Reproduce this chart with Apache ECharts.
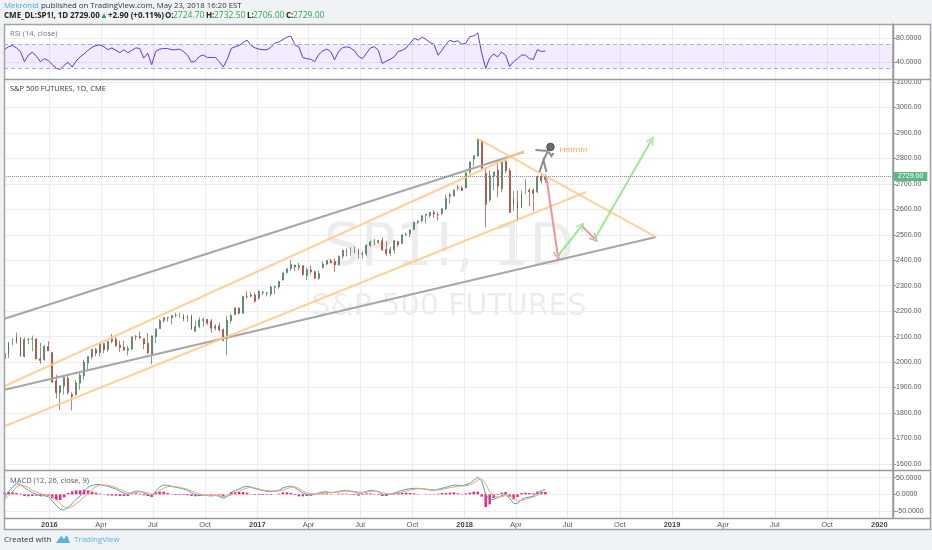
<!DOCTYPE html>
<html>
<head lang="en">
    <meta charset="UTF-8">
    <title>SP1! 1D</title>
    <script src="https://cdn.jsdelivr.net/npm/echarts@6/dist/echarts.min.js"></script>
    <style>
        html, body { margin: 0; padding: 0; background: #f0f3f6; }
        #container { width: 932px; height: 550px; }
    </style>
</head>
<body>
<div id="container"></div>
<script>
    // weekly candles, one per week, first week centred on Wed 2015-10-14
    var firstWeek = '2015-10-14';
    var weekOpen = [2013,2033,2075,2080,2096,2022,2089,2090,2091,2013,
        2010,2061,2038,1926,1880,1906,1936,1873,1871,1917,
        1947,1996,2020,2049,2037,2073,2050,2081,2090,2067,
        2058,2046,2052,2100,2100,2092,2073,2030,2100,2131,
        2163,2175,2173,2184,2184,2183,2171,2181,2121,2140,
        2163,2168,2160,2133,2142,2128,2092,2163,2186,2212,
        2192,2258,2259,2263,2251,2273,2270,2267,2294,2295,
        2322,2352,2367,2381,2372,2379,2339,2362,2355,2329,
        2371,2385,2397,2394,2382,2416,2438,2432,2433,2438,
        2424,2425,2459,2472,2471,2477,2443,2427,2441,2474,
        2466,2501,2503,2521,2549,2555,2578,2575,2588,2579,
        2584,2602,2657,2652,2685,2684,2684,2746,2798,2809,
        2867,2741,2637,2730,2754,2681,2787,2752,2619,2633,
        2611,2670,2675,2675,2669,2728,2717];
    var weekHigh = [2034,2080,2094,2116,2098,2097,2095,2104,2094,2076,
        2067,2082,2038,1950,1908,1940,1947,1881,1930,1963,
        2009,2022,2052,2056,2075,2074,2083,2111,2099,2084,
        2084,2064,2100,2106,2120,2092,2113,2103,2131,2169,
        2176,2178,2183,2194,2193,2189,2184,2187,2163,2176,
        2175,2169,2169,2149,2155,2131,2182,2189,2214,2214,
        2259,2278,2274,2273,2282,2279,2276,2300,2300,2319,
        2351,2367,2401,2382,2390,2379,2370,2379,2358,2361,
        2396,2399,2405,2406,2418,2440,2446,2451,2453,2446,
        2434,2463,2477,2484,2480,2490,2474,2454,2480,2474,
        2500,2508,2520,2552,2557,2576,2582,2589,2597,2591,
        2604,2657,2665,2679,2695,2692,2745,2787,2812,2878,
        2871,2763,2754,2747,2789,2786,2803,2762,2672,2673,
        2674,2718,2683,2682,2732,2742,2737];
    var weekLow = [1990,2016,2066,2072,2022,2019,2070,2042,2012,1993,
        2005,2044,1918,1857,1812,1872,1872,1810,1871,1891,
        1931,1969,2012,2023,2022,2034,2039,2074,2059,2040,
        2043,2026,2047,2085,2090,2050,2032,1991,2074,2131,
        2155,2159,2148,2176,2174,2160,2158,2128,2119,2133,
        2139,2145,2115,2124,2119,2083,2028,2151,2186,2187,
        2191,2248,2254,2234,2245,2263,2258,2258,2267,2288,
        2321,2348,2358,2357,2361,2339,2322,2344,2328,2323,
        2370,2380,2388,2353,2380,2405,2415,2418,2428,2405,
        2407,2416,2452,2459,2464,2437,2417,2417,2428,2452,
        2466,2495,2491,2520,2543,2548,2544,2566,2566,2557,
        2577,2597,2624,2652,2673,2672,2683,2738,2769,2808,
        2756,2530,2630,2675,2647,2667,2742,2586,2594,2553,
        2605,2660,2612,2594,2663,2702,2703];
    var weekClose = [2033,2075,2079,2099,2023,2089,2090,2092,2012,2006,
        2061,2044,1922,1880,1907,1940,1880,1865,1918,1948,
        1999,2022,2050,2035,2073,2048,2081,2092,2065,2057,
        2047,2052,2099,2099,2096,2071,2037,2103,2130,2162,
        2175,2174,2183,2184,2184,2169,2180,2128,2139,2165,
        2168,2153,2133,2141,2126,2085,2164,2182,2213,2192,
        2259,2258,2264,2239,2277,2275,2271,2295,2297,2316,
        2351,2367,2383,2373,2378,2344,2363,2355,2329,2348,
        2384,2399,2391,2382,2416,2439,2432,2433,2438,2423,
        2425,2459,2472,2472,2477,2441,2426,2443,2477,2461,
        2500,2502,2519,2549,2553,2575,2581,2588,2582,2578,
        2602,2642,2652,2675,2684,2674,2743,2786,2810,2873,
        2762,2620,2732,2747,2691,2786,2752,2588,2641,2604,
        2656,2670,2670,2663,2728,2713,2729];

    var rsiValues = [61,66,68,64,58,41,52,57,50,41,
        46,43,36,30,28,35,40,32,42,49,
        54,60,65,68,69,66,61,64,60,56,
        61,56,60,64,63,47,55,36,58,62,
        63,63,61,61,62,58,52,40,42,50,
        52,48,48,48,41,32,45,63,66,68,
        73,77,68,64,62,61,61,65,72,74,
        78,82,84,69,66,48,46,45,41,53,
        59,62,58,44,58,64,66,64,59,50,
        46,55,64,66,60,38,42,45,49,58,
        60,64,72,80,77,82,78,73,70,52,
        60,70,77,74,76,70,72,83,84,89,
        55,30,47,54,49,57,52,33,41,46,
        52,52,46,45,61,58,59];

    var macdLine = [-10,8,22,32,30,20,12,5,0,-5,
        -4,-7,-20,-33,-45,-47,-38,-28,-15,-5,
        10,21,27,29,30,27,24,20,16,9,
        4,0,6,9,10,4,0,-8,10,22,
        28,27,24,21,19,16,12,5,-2,-4,
        -2,-4,-5,-3,-6,-12,-6,5,11,16,
        22,24,21,17,14,11,9,8,10,12,
        19,23,25,20,12,4,0,-2,0,4,
        7,8,5,6,9,11,12,9,7,3,
        4,9,12,11,7,0,-2,1,4,8,
        12,15,17,18,18,17,15,13,12,15,
        18,21,25,28,27,26,29,33,42,51,
        40,0,-17,-15,-10,-4,0,-12,-27,-28,
        -15,-10,-8,-5,5,11,15];
    var signalLine = [-15,-5,8,22,28,25,20,12,7,3,
        -1,-3,-8,-16,-28,-38,-42,-37,-28,-20,
        -8,3,15,23,28,28,27,24,20,15,
        10,5,3,5,8,7,5,0,3,12,
        18,23,25,23,21,18,15,10,5,1,
        -2,-3,-3,-4,-4,-6,-5,-2,4,9,
        15,19,22,19,16,13,11,10,10,10,
        13,17,21,22,18,10,5,2,1,2,
        4,5,6,6,7,9,10,10,9,7,
        6,6,9,10,9,5,3,1,1,4,
        7,10,13,15,17,17,16,14,13,13,
        14,17,20,22,24,25,26,28,34,43,
        47,30,8,-4,-8,-7,-4,-5,-12,-20,
        -19,-15,-12,-8,-3,3,8];
    var macdHist = [5,8,6,4,2,-5,-6,-5,-4,-5,
        -3,-4,-12,-17,-17,-9,4,9,12,12,
        14,12,8,5,2,-1,-3,-4,-4,-5,
        -5,-5,2,3,2,-3,-5,-8,6,8,
        8,4,-1,-2,-2,-2,-3,-5,-6,-5,
        0,-1,-2,1,-2,-6,-1,7,7,7,
        7,5,-1,-2,-2,-2,-2,-2,0,2,
        6,6,4,-2,-6,-6,-5,-4,-1,2,
        3,3,-1,0,2,2,2,-1,-2,-4,
        -2,3,3,1,-2,-5,-5,0,3,4,
        5,5,4,3,1,0,-1,-1,-1,2,
        4,4,5,6,3,1,3,5,8,8,
        -7,-38,-30,-11,-2,5,7,-7,-15,-8,
        4,5,4,3,8,8,7];

    var xRange = ['2015-10-13', '2020-01-25'];
    var quarterTicks = ['2016-01-01','2016-04-01','2016-07-01','2016-10-01',
        '2017-01-01','2017-04-01','2017-07-01','2017-10-01',
        '2018-01-01','2018-04-01','2018-07-01','2018-10-01',
        '2019-01-01','2019-04-01','2019-07-01','2019-10-01','2020-01-01'];
    var monthNames = ['Jan','Feb','Mar','Apr','May','Jun','Jul','Aug','Sep','Oct','Nov','Dec'];
    var priceTicks = [1600,1700,1800,1900,2000,2100,2200,2300,2400,2500,2600,2700,2800,2900,3000,3100];
    var rsiTicks = [40, 80];
    var rsiBand = [30, 70];
    var macdTicks = [-50, 0, 50];

    // drawings on the price pane: [date, price] pairs
    var greyLines = [
        [['2015-10-14', 2170], ['2018-04-15', 2825]],
        [['2015-10-14', 1891], ['2018-12-04', 2491]]
    ];
    var orangeLines = [
        [['2015-10-14', 1906], ['2018-04-15', 2829]],
        [['2015-10-15', 1749], ['2018-08-03', 2668]],
        [['2018-01-24', 2878], ['2018-12-04', 2491]]
    ];
    var redArrows = [
        [['2018-05-25', 2723], ['2018-06-14', 2417]],
        [['2018-07-26', 2535], ['2018-08-18', 2484]]
    ];
    var greenArrows = [
        [['2018-06-14', 2417], ['2018-07-26', 2535]],
        [['2018-08-18', 2484], ['2018-11-26', 2872]]
    ];
    var stickFigure = ['2018-06-01', 2845];
    var headerOHLC = [2724.70, 2732.50, 2706.00, 2729.00];
    var headerChange = [2.90, 0.11];

    function T(s) {
        var p = s.split('-');
        return new Date(+p[0], +p[1] - 1, +p[2]).getTime();
    }
    var DAY = 86400000;
    var weekTimes = weekClose.map(function (c, i) { return T(firstWeek) + i * 7 * DAY; });
    var quarterTimes = quarterTicks.map(T);
    function seg(list) {
        return list.map(function (s) {
            return { coords: s.map(function (pt) { return [T(pt[0]), pt[1]]; }) };
        });
    }

    var candles = weekTimes.map(function (t, i) {
        return [t, weekOpen[i], weekClose[i], weekLow[i], weekHigh[i]];
    });
    var lastClose = weekClose[weekClose.length - 1];

    var axisFont = 'Liberation Sans';
    var textFont = 'Open Sans';
    var gridLine = { show: true, lineStyle: { color: '#ededed', width: 1 } };

    // dates are kept as plain numbers on a value axis so the quarter ticks can be placed exactly
    function xAxisFor(g, labels) {
        return {
            type: 'value', gridIndex: g, min: T(xRange[0]), max: T(xRange[1]), scale: true,
            axisLine: { show: false },
            axisTick: { show: false, customValues: quarterTimes },
            splitLine: gridLine,
            axisLabel: labels ? {
                customValues: quarterTimes,
                fontSize: 7.5, color: '#555', margin: 3, fontFamily: axisFont,
                formatter: function (v) {
                    var d = new Date(v);
                    return d.getMonth() === 0 ? '{y|' + d.getFullYear() + '}' : monthNames[d.getMonth()];
                },
                rich: { y: { fontWeight: 'bold', fontSize: 7.5, color: '#444', fontFamily: axisFont } }
            } : { show: false }
        };
    }
    function yAxisFor(g, min, max, ticks, digits) {
        return {
            type: 'value', gridIndex: g, position: 'right', min: min, max: max,
            axisLine: { show: true, lineStyle: { color: '#9a9a9a', width: 1.5 } },
            axisTick: { show: true, length: 3, customValues: ticks, lineStyle: { color: '#999' } },
            splitLine: gridLine,
            axisLabel: {
                customValues: ticks, fontSize: 7, color: '#555', margin: 3, fontFamily: axisFont,
                formatter: function (v) { return v.toFixed(digits); }
            }
        };
    }
    function label(x, y, text, fill, bold, size) {
        return { type: 'text', z: 20, style: { x: x, y: y, verticalAlign: 'middle', text: text, fill: fill,
            fontSize: size || 8, fontFamily: textFont, fontWeight: bold ? 'bold' : 'normal' } };
    }

    var myChart = echarts.init(document.getElementById('container'));
    myChart.setOption({
        backgroundColor: '#f0f3f6',
        animation: false,
        grid: [
            { left: 4, right: 39, top: 24, height: 55 },
            { left: 4, right: 39, top: 80, height: 390 },
            { left: 4, right: 39, top: 471, height: 47 }
        ],
        xAxis: [xAxisFor(0, false), xAxisFor(1, false), xAxisFor(2, true)],
        yAxis: [
            yAxisFor(0, 12, 104, rsiTicks, 4),
            yAxisFor(1, 1576, 3108, priceTicks, 2),
            yAxisFor(2, -71, 70, macdTicks, 4)
        ],
        graphic: [
            { type: 'rect', z: -10, shape: { x: 4, y: 24, width: 927, height: 506 }, style: { fill: '#fff' } },
            { type: 'text', z: -5, style: { text: 'SP1!, 1D', x: 449, y: 250, align: 'center', verticalAlign: 'middle',
                fontSize: 58, fontFamily: 'DejaVu Sans', fill: 'rgba(0,0,0,0.075)' } },
            { type: 'text', z: -5, style: { text: 'S&P 500 FUTURES', x: 449, y: 307, align: 'center', verticalAlign: 'middle',
                fontSize: 30, fontFamily: 'DejaVu Sans', fill: 'rgba(0,0,0,0.075)' } },
            { type: 'rect', z: 20, shape: { x: 4.5, y: 24.5, width: 926, height: 505 },
                style: { fill: null, stroke: '#a3a3a3', lineWidth: 1.5 } },
            { type: 'line', z: 20, shape: { x1: 4, y1: 79.5, x2: 931, y2: 79.5 }, style: { stroke: '#9a9a9a', lineWidth: 1.5 } },
            { type: 'line', z: 20, shape: { x1: 4, y1: 470.5, x2: 931, y2: 470.5 }, style: { stroke: '#9a9a9a', lineWidth: 1.5 } },
            { type: 'line', z: 20, shape: { x1: 4, y1: 518.5, x2: 931, y2: 518.5 }, style: { stroke: '#9a9a9a', lineWidth: 1.5 } },
            { type: 'line', z: 20, shape: { x1: 893.5, y1: 24, x2: 893.5, y2: 518 }, style: { stroke: '#9a9a9a', lineWidth: 1.5 } },
            { type: 'text', style: { x: 4, y: 6, verticalAlign: 'middle', fontSize: 7.8, fontFamily: textFont, fill: '#333',
                text: '{a|Mekronid} published on TradingView.com, May 23, 2018 16:20 EST',
                rich: { a: { fill: '#4aa8e0', fontSize: 7.8, fontFamily: textFont } } } },
            label(4, 16, 'CME_DL:SP1!, 1D', '#222', true),
            label(70, 16, lastClose.toFixed(2), '#222', true),
            label(100, 16, '▲', '#2e9e48', false),
            label(108, 16, '+' + headerChange[0].toFixed(2) + ' (+' + headerChange[1].toFixed(2) + '%)', '#222', true),
            label(165, 16, 'O:', '#222', true), label(173, 16, headerOHLC[0].toFixed(2), '#3aa64a', false, 8.5),
            label(206, 16, 'H:', '#222', true), label(214, 16, headerOHLC[1].toFixed(2), '#3aa64a', false, 8.5),
            label(247, 16, 'L:', '#222', true), label(253, 16, headerOHLC[2].toFixed(2), '#3aa64a', false, 8.5),
            label(286, 16, 'C:', '#222', true), label(293, 16, headerOHLC[3].toFixed(2), '#3aa64a', false, 8.5),
            label(10, 34, 'RSI (14, close)', '#777', false, 7.5),
            label(10, 89, 'S&P 500 FUTURES, 1D, CME', '#333', false, 7.5),
            label(10, 481, 'MACD (12, 26, close, 9)', '#555', false, 7.5),
            label(4, 540, 'Created with', '#333', false, 8),
            { type: 'polygon', shape: { points: [[56, 543], [61, 536], [64, 539], [67, 535], [70, 543]] }, style: { fill: '#5ab1e3' } },
            label(74, 540, 'TradingView', '#5ab1e3', false, 8)
        ],
        series: [
            {
                name: 'RSI', type: 'line', xAxisIndex: 0, yAxisIndex: 0, showSymbol: false, silent: true,
                data: weekTimes.map(function (t, i) { return [t, rsiValues[i]]; }),
                lineStyle: { color: '#5d3bdb', width: 1 },
                markArea: { silent: true, itemStyle: { color: 'rgba(160,90,255,0.12)' },
                    data: [[{ yAxis: rsiBand[0] }, { yAxis: rsiBand[1] }]] },
                markLine: { silent: true, symbol: 'none', label: { show: false },
                    lineStyle: { color: '#b7a7d4', type: [4, 3], width: 1 },
                    data: rsiBand.map(function (v) { return { yAxis: v }; }) }
            },
            {
                name: 'SP1!', type: 'candlestick', xAxisIndex: 1, yAxisIndex: 1, barWidth: 1.4, silent: true,
                data: candles,
                itemStyle: { color: '#6ba583', color0: '#d75442', borderColor: '#2c5e40', borderColor0: '#8a2a1e', borderWidth: 0.6 },
                markLine: {
                    silent: true, symbol: 'none',
                    lineStyle: { color: '#8a8a8a', type: 'dotted', width: 1 },
                    label: { position: 'end', distance: 1, formatter: lastClose.toFixed(2), color: '#fff', fontSize: 7,
                        fontFamily: axisFont, backgroundColor: '#5eb68c', padding: [1, 4, 1, 4] },
                    data: [{ yAxis: lastClose }]
                }
            },
            {
                type: 'lines', coordinateSystem: 'cartesian2d', xAxisIndex: 1, yAxisIndex: 1, silent: true, z: 3,
                lineStyle: { color: '#a6a6a6', width: 2, opacity: 1 }, data: seg(greyLines)
            },
            {
                type: 'lines', coordinateSystem: 'cartesian2d', xAxisIndex: 1, yAxisIndex: 1, silent: true, z: 3,
                lineStyle: { color: '#ffc98a', width: 2, opacity: 0.85 }, data: seg(orangeLines)
            },
            {
                type: 'lines', coordinateSystem: 'cartesian2d', xAxisIndex: 1, yAxisIndex: 1, silent: true, z: 4,
                symbol: ['none', 'path://M0,10 L5,0 L10,10 L8.4,10 L5,3.2 L1.6,10 Z'], symbolSize: [10, 9],
                lineStyle: { color: '#f3868c', width: 2, opacity: 0.9 }, data: seg(redArrows)
            },
            {
                type: 'lines', coordinateSystem: 'cartesian2d', xAxisIndex: 1, yAxisIndex: 1, silent: true, z: 4,
                symbol: ['none', 'path://M0,10 L5,0 L10,10 L8.4,10 L5,3.2 L1.6,10 Z'], symbolSize: [10, 9],
                lineStyle: { color: '#93e490', width: 2, opacity: 0.9 }, data: seg(greenArrows)
            },
            {
                type: 'custom', xAxisIndex: 1, yAxisIndex: 1, silent: true, z: 5,
                data: [[T(stickFigure[0]), stickFigure[1]]],
                renderItem: function (params, api) {
                    var p = api.coord([api.value(0), api.value(1)]);
                    var x = p[0], y = p[1];
                    var st = { stroke: '#8c8c8c', lineWidth: 2, fill: null };
                    return {
                        type: 'group', children: [
                            { type: 'polyline', shape: { points: [[x - 15, y + 3], [x - 2, y + 4]] }, style: st },
                            { type: 'polyline', shape: { points: [[x - 2, y + 5], [x + 1, y + 9], [x + 3, y + 6]] }, style: st },
                            { type: 'polyline', shape: { points: [[x - 3, y + 5], [x - 7, y + 13]] }, style: st },
                            { type: 'polyline', shape: { points: [[x - 11, y + 25], [x - 7, y + 13], [x - 4, y + 25]] }, style: st },
                            { type: 'circle', shape: { cx: x, cy: y, r: 3.8 }, style: { fill: '#6d6d6d', stroke: '#3a3a3a', lineWidth: 0.8 } },
                            { type: 'text', style: { text: 'Hmmm', x: x + 9, y: y + 3, verticalAlign: 'middle',
                                fill: '#f5a54a', fontSize: 8, fontFamily: textFont } }
                        ]
                    };
                }
            },
            {
                name: 'Histogram', type: 'bar', xAxisIndex: 2, yAxisIndex: 2, barWidth: 2.5, silent: true,
                data: weekTimes.map(function (t, i) { return [t, macdHist[i]]; }),
                itemStyle: { color: '#f0287a' }
            },
            {
                name: 'MACD', type: 'line', xAxisIndex: 2, yAxisIndex: 2, showSymbol: false, silent: true,
                data: weekTimes.map(function (t, i) { return [t, macdLine[i]]; }),
                lineStyle: { color: '#3ea6e8', width: 1 }
            },
            {
                name: 'Signal', type: 'line', xAxisIndex: 2, yAxisIndex: 2, showSymbol: false, silent: true,
                data: weekTimes.map(function (t, i) { return [t, signalLine[i]]; }),
                lineStyle: { color: '#f5a35c', width: 1 }
            }
        ]
    });
</script>
</body>
</html>
